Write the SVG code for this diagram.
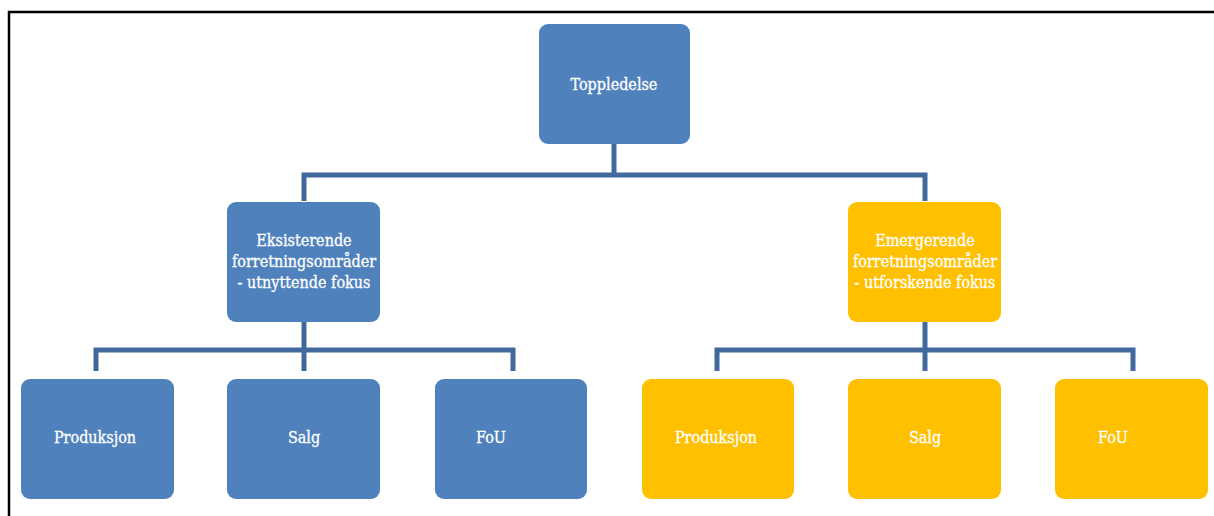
<svg xmlns="http://www.w3.org/2000/svg" width="1214" height="516" viewBox="0 0 1214 516">
<style>
.blue{fill:#4F81BD}
.yellow{fill:#FFC000}
.lbl{fill:#FFFFFF;font-family:'DejaVu Serif Condensed','DejaVu Serif',serif;font-stretch:condensed;font-size:16px;text-anchor:middle;stroke:#FFFFFF;stroke-width:0.3}
.conn{fill:none;stroke:#41699E;stroke-width:5;stroke-linejoin:miter}
</style>
<rect x="0" y="0" width="1214" height="516" fill="#FFFFFF"/>
<path d="M9 520 V12 H1220" fill="none" stroke="#000000" stroke-width="2.5"/>
<g id="connectors">
<path class="conn" d="M614 144 V175"/>
<path class="conn" d="M304 201 V175 H925 V201"/>
<path class="conn" d="M304 321 V371"/>
<path class="conn" d="M96 371 V350 H513 V371"/>
<path class="conn" d="M925 321 V371"/>
<path class="conn" d="M717 371 V350 H1133 V371"/>
</g>
<g id="toppledelse">
<rect class="blue" x="539" y="24" width="151" height="120" rx="9"/>
<text class="lbl" x="614" y="90">Toppledelse</text>
</g>
<g id="eksisterende">
<rect class="blue" x="227" y="202" width="153" height="120" rx="9"/>
<text class="lbl" x="304" y="246">Eksisterende</text>
<text class="lbl" x="304" y="267">forretningsområder</text>
<text class="lbl" x="304" y="288">- utnyttende fokus</text>
</g>
<g id="emergerende">
<rect class="yellow" x="848" y="202" width="153" height="120" rx="9"/>
<text class="lbl" x="925" y="246">Emergerende</text>
<text class="lbl" x="925" y="267">forretningsområder</text>
<text class="lbl" x="925" y="288">- utforskende fokus</text>
</g>
<g id="b-produksjon">
<rect class="blue" x="21" y="379" width="153" height="120" rx="9"/>
<text class="lbl" x="95" y="443">Produksjon</text>
</g>
<g id="b-salg">
<rect class="blue" x="227" y="379" width="153" height="120" rx="9"/>
<text class="lbl" x="304" y="443">Salg</text>
</g>
<g id="b-fou">
<rect class="blue" x="435" y="379" width="152" height="120" rx="9"/>
<text class="lbl" x="491" y="443">FoU</text>
</g>
<g id="y-produksjon">
<rect class="yellow" x="642" y="379" width="152" height="120" rx="9"/>
<text class="lbl" x="716" y="443">Produksjon</text>
</g>
<g id="y-salg">
<rect class="yellow" x="848" y="379" width="153" height="120" rx="9"/>
<text class="lbl" x="925" y="443">Salg</text>
</g>
<g id="y-fou">
<rect class="yellow" x="1055" y="379" width="153" height="120" rx="9"/>
<text class="lbl" x="1113" y="443">FoU</text>
</g>
</svg>
